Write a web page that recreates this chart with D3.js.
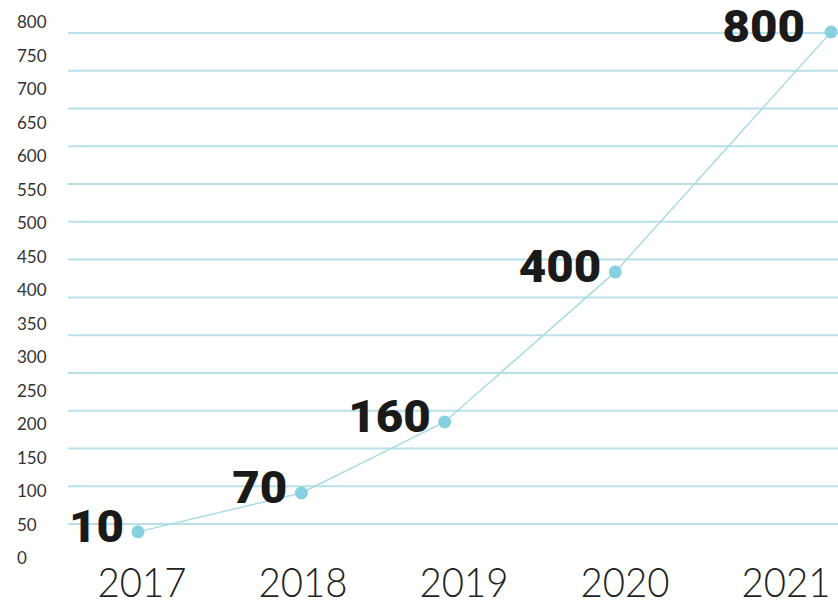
<!DOCTYPE html>
<html><head><meta charset="utf-8">
<script src="https://cdn.jsdelivr.net/npm/d3@7"></script>
<style>html,body{margin:0;padding:0;background:#fff;}</style>
</head><body><svg id="c" width="838" height="606"></svg>
<script>
// Data
const years = [2017, 2018, 2019, 2020, 2021];
const values = [10, 70, 160, 400, 800];            // labelled values
const plotLevel = [48, 106, 212, 436, 794];        // level where each dot sits, read on the left scale
const plotYear = [2016.975, 2017.99, 2018.88, 2019.94, 2021.28]; // horizontal place of each dot, in years
const yTicks = d3.range(0, 801, 50);
const gridCount = 14;

const svg = d3.select("#c");
const W = 838, H = 606;

const yLab = d3.scaleLinear().domain([0, 800]).range([564, 28]);
const x = d3.scaleLinear().domain([2017, 2021]).range([142, 786]);
const yGrid = d3.scaleLinear().domain([0, gridCount - 1]).range([524, 33]);

// gridlines
svg.append("g").selectAll("line").data(d3.range(gridCount)).join("line")
  .attr("x1", 68).attr("x2", W)
  .attr("y1", d => yGrid(d)).attr("y2", d => yGrid(d))
  .attr("stroke", "#b9e0e7").attr("stroke-width", 2);

// y tick labels
svg.append("g").selectAll("text").data(yTicks).join("text")
  .attr("x", 17).attr("y", d => yLab(d))
  .attr("font-family", "Lato, 'Open Sans', sans-serif")
  .attr("font-size", 17).attr("fill", "#333")
  .text(d => d);

// x labels
svg.append("g").selectAll("text").data(years).join("text")
  .attr("x", d => x(d)).attr("y", 597)
  .attr("text-anchor", "middle")
  .attr("font-family", "Lato, sans-serif")
  .attr("font-weight", 300)
  .attr("font-size", 42).attr("fill", "#222")
  .attr("textLength", 89).attr("lengthAdjust", "spacingAndGlyphs")
  .text(d => d);

const pts = years.map((yr, i) => ({yr, v: values[i], px: x(plotYear[i]), py: yLab(plotLevel[i])}));

// line
svg.append("path").datum(pts)
  .attr("d", d3.line().x(d => d.px).y(d => d.py))
  .attr("fill", "none").attr("stroke", "#a6dbe5").attr("stroke-width", 1.4);

// dots
svg.append("g").selectAll("circle").data(pts).join("circle")
  .attr("cx", d => d.px).attr("cy", d => d.py).attr("r", 6.5)
  .attr("fill", "#86d0df");

// value labels
svg.append("g").selectAll("text").data(pts).join("text")
  .attr("x", d => d.px - (d.v === 800 ? 26 : 14)).attr("y", d => d.py + 10)
  .attr("text-anchor", "end")
  .attr("font-family", "Roboto, Lato, sans-serif")
  .attr("font-weight", 900)
  .attr("font-size", 44).attr("fill", "#1a1a1a")
  .attr("textLength", d => String(d.v).length * 27.5)
  .attr("lengthAdjust", "spacingAndGlyphs")
  .text(d => d.v);
</script></body></html>
